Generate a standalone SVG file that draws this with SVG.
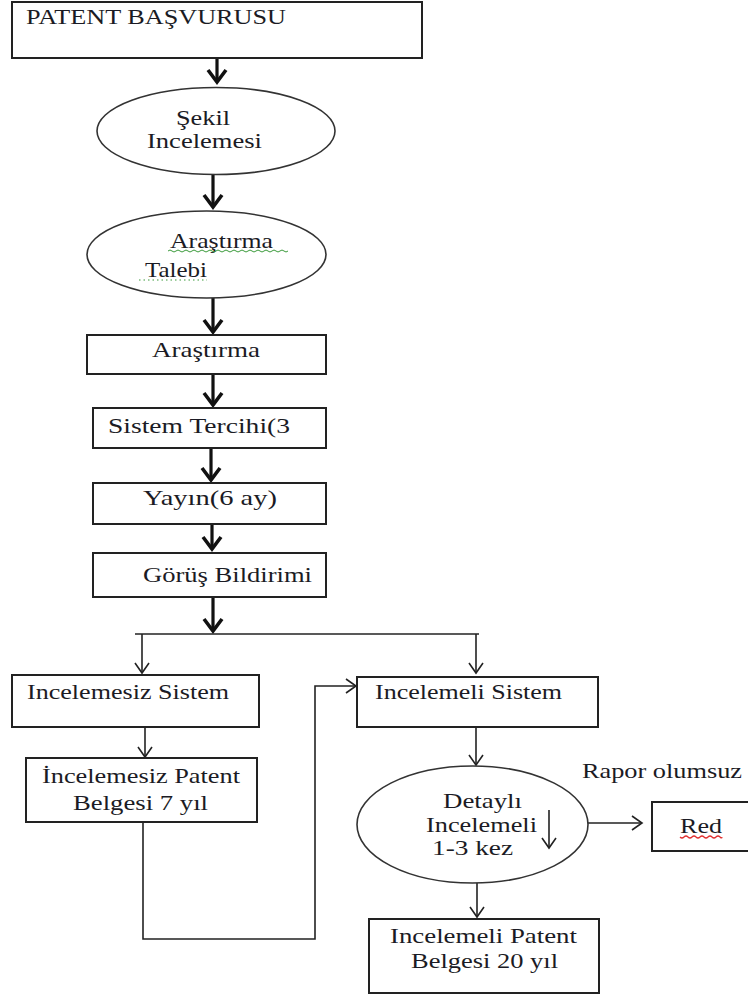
<svg xmlns="http://www.w3.org/2000/svg" width="748" height="998" viewBox="0 0 748 998">
<defs>
<style>
.box{fill:#fff;stroke:#222;stroke-width:2}
.ell{fill:#fff;stroke:#333;stroke-width:1.6}
.t{font-family:"Liberation Serif","Times New Roman",serif;font-size:21px;fill:#1b1b24}
.thick{stroke:#111;stroke-width:3.2;fill:none}
.thin{stroke:#222;stroke-width:1.6;fill:none}
.wg{stroke:#3a9a3a;stroke-width:1;fill:none}
.wr{stroke:#e03030;stroke-width:1.2;fill:none}
</style>
<marker id="ah" viewBox="-16 -12 20 24" refX="0" refY="0" markerWidth="20" markerHeight="24" markerUnits="userSpaceOnUse" orient="auto">
<path d="M-12,-9 L0,0 L-12,9" fill="none" stroke="#111" stroke-width="3.6" stroke-linejoin="miter"/>
</marker>
<marker id="at" viewBox="-13 -9 16 18" refX="0" refY="0" markerWidth="16" markerHeight="18" markerUnits="userSpaceOnUse" orient="auto">
<path d="M-10,-7 L0,0 L-10,7" fill="none" stroke="#222" stroke-width="1.6"/>
</marker>
</defs>
<rect width="748" height="998" fill="#fff"/>

<g id="connectors">
<line class="thick" x1="217" y1="58" x2="217" y2="82" marker-end="url(#ah)"/>
<line class="thick" x1="213" y1="175" x2="213" y2="207" marker-end="url(#ah)"/>
<line class="thick" x1="213" y1="298" x2="213" y2="332" marker-end="url(#ah)"/>
<line class="thick" x1="213" y1="374" x2="213" y2="405" marker-end="url(#ah)"/>
<line class="thick" x1="211" y1="448" x2="211" y2="480" marker-end="url(#ah)"/>
<line class="thick" x1="212" y1="524" x2="212" y2="549" marker-end="url(#ah)"/>
<line class="thick" x1="213" y1="597" x2="213" y2="631" marker-end="url(#ah)"/>
<line class="thin" x1="135" y1="634" x2="479" y2="634"/>
<line class="thin" x1="142" y1="634" x2="142" y2="673" marker-end="url(#at)"/>
<line class="thin" x1="476" y1="634" x2="476" y2="673" marker-end="url(#at)"/>
<line class="thin" x1="145" y1="727" x2="145" y2="757" marker-end="url(#at)"/>
<path class="thin" d="M143,822 V939 H315 V686 H356" marker-end="url(#at)"/>
<line class="thin" x1="476" y1="727" x2="476" y2="765" marker-end="url(#at)"/>
<line class="thin" x1="588" y1="823" x2="642" y2="823" marker-end="url(#at)"/>
<line class="thin" x1="477" y1="883" x2="477" y2="917" marker-end="url(#at)"/>
</g>

<g id="n1">
<rect class="box" x="12" y="2" width="410" height="56"/>
<text class="t" x="26" y="24" style="font-size:22px" textLength="260" lengthAdjust="spacingAndGlyphs">PATENT BAŞVURUSU</text>
</g>

<g id="n2">
<ellipse class="ell" cx="216" cy="131" rx="119" ry="43.5"/>
<text class="t" x="176" y="125" textLength="54" lengthAdjust="spacingAndGlyphs">Şekil</text>
<text class="t" x="147" y="148" textLength="115" lengthAdjust="spacingAndGlyphs">Incelemesi</text>
</g>

<g id="n3">
<ellipse class="ell" cx="206.5" cy="254.5" rx="119.5" ry="43.5"/>
<text class="t" x="170" y="248" textLength="103" lengthAdjust="spacingAndGlyphs">Araştırma</text>
<text class="t" x="145" y="277" textLength="62" lengthAdjust="spacingAndGlyphs">Talebi</text>
<path class="wg" d="M168,251 q2,-2 4,0 t4,0 t4,0 t4,0 t4,0 t4,0 t4,0 t4,0 t4,0 t4,0 t4,0 t4,0 t4,0 t4,0 t4,0 t4,0 t4,0 t4,0 t4,0 t4,0 t4,0 t4,0 t4,0 t4,0 t4,0 t4,0 t4,0 t4,0 t4,0 t4,0"/>
<path class="wg" stroke-dasharray="1.5 3" d="M139,280 H207"/>
</g>

<g id="n4">
<rect class="box" x="87" y="335" width="239" height="39"/>
<text class="t" x="152" y="357" textLength="108" lengthAdjust="spacingAndGlyphs">Araştırma</text>
</g>

<g id="n5">
<rect class="box" x="93" y="408" width="233" height="40"/>
<text class="t" x="108" y="433" textLength="182" lengthAdjust="spacingAndGlyphs">Sistem Tercihi(3</text>
</g>

<g id="n6">
<rect class="box" x="93" y="483" width="233" height="41"/>
<text class="t" x="143" y="505" textLength="134" lengthAdjust="spacingAndGlyphs">Yayın(6 ay)</text>
</g>

<g id="n7">
<rect class="box" x="93" y="553" width="233" height="44"/>
<text class="t" x="143" y="582" textLength="169" lengthAdjust="spacingAndGlyphs">Görüş Bildirimi</text>
</g>

<g id="n8">
<rect class="box" x="12" y="675" width="247" height="52"/>
<text class="t" x="27" y="699" textLength="202" lengthAdjust="spacingAndGlyphs">Incelemesiz Sistem</text>
</g>

<g id="n9">
<rect class="box" x="26" y="758" width="231" height="64"/>
<text class="t" x="42" y="783" textLength="198" lengthAdjust="spacingAndGlyphs">İncelemesiz Patent</text>
<text class="t" x="73" y="810" textLength="135" lengthAdjust="spacingAndGlyphs">Belgesi 7 yıl</text>
</g>

<g id="n10">
<rect class="box" x="357" y="677" width="241" height="50"/>
<text class="t" x="375" y="699" textLength="187" lengthAdjust="spacingAndGlyphs">Incelemeli Sistem</text>
</g>

<g id="n11">
<ellipse class="ell" cx="472.5" cy="824.5" rx="115.5" ry="58.5"/>
<text class="t" x="443" y="808" textLength="79" lengthAdjust="spacingAndGlyphs">Detaylı</text>
<text class="t" x="426" y="832" textLength="111" lengthAdjust="spacingAndGlyphs">Incelemeli</text>
<text class="t" x="432" y="855" textLength="81" lengthAdjust="spacingAndGlyphs">1-3 kez</text>
<line class="thin" x1="549" y1="810" x2="549" y2="848" marker-end="url(#at)"/>
</g>

<g id="label-rapor">
<text class="t" x="582" y="778" textLength="160" lengthAdjust="spacingAndGlyphs">Rapor olumsuz</text>
</g>

<g id="n12">
<rect class="box" x="652" y="802" width="110" height="49"/>
<text class="t" x="680" y="833" textLength="42" lengthAdjust="spacingAndGlyphs">Red</text>
<path class="wr" d="M680,837 q2,2 4,0 t4,0 t4,0 t4,0 t4,0 t4,0 t4,0 t4,0 t4,0 t4,0 t2,0"/>
</g>

<g id="n13">
<rect class="box" x="369" y="919" width="230" height="74"/>
<text class="t" x="390" y="943" textLength="187" lengthAdjust="spacingAndGlyphs">Incelemeli Patent</text>
<text class="t" x="411" y="968" textLength="147" lengthAdjust="spacingAndGlyphs">Belgesi 20 yıl</text>
</g>
</svg>
